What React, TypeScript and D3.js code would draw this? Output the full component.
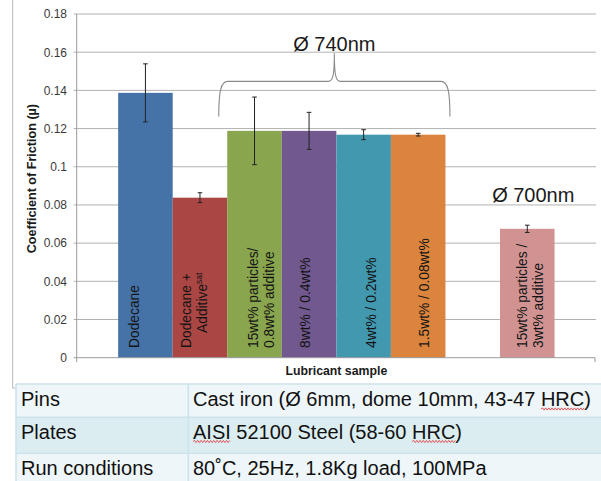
import React, { useLayoutEffect, useRef, useState } from "react";
import * as d3 from "d3";

// ---- data ----
const sampleKeys = ["dodecane", "dodecaneAdd", "p15a08", "p8a04", "p4a02", "p15a008", "gap", "p15a3"];
const frictionValues: (number | null)[] = [0.1387, 0.0838, 0.1188, 0.1188, 0.1168, 0.1168, null, 0.0675];
const frictionErrors: (number | null)[] = [0.0152, 0.0026, 0.0177, 0.0097, 0.0026, 0.0007, null, 0.0019];
const barLabels: string[][] = [
  ["Dodecane"],
  ["Dodecane +", "Additive|sat"],
  ["15wt% particles/", "0.8wt% additive"],
  ["8wt% / 0.4wt%"],
  ["4wt% / 0.2wt%"],
  ["1.5wt% / 0.08wt%"],
  [],
  ["15wt% particles /", "3wt% additive"],
];
const yTicks = [0, 0.02, 0.04, 0.06, 0.08, 0.1, 0.12, 0.14, 0.16, 0.18];
const yTickLabels = ["0", "0.02", "0.04", "0.06", "0.08", "0.1", "0.12", "0.14", "0.16", "0.18"];
const yTitle = "Coefficient of Friction (µ)";
const xTitle = "Lubricant sample";
const groupLabel740 = "Ø 740nm";
const groupLabel700 = "Ø 700nm";
const tableRows: string[][] = [
  ["Pins", "Cast iron (Ø 6mm, dome 10mm, 43-47 HRC)"],
  ["Plates", "AISI 52100 Steel (58-60 HRC)"],
  ["Run conditions", "80˚C, 25Hz, 1.8Kg load, 100MPa"],
];
// words flagged by spell check (row index, substring)
const flagged: [number, string][] = [
  [0, "HRC"],
  [1, "AISI"],
  [1, "HRC"],
];

// ---- styles ----
const barColors = ["#4572A7", "#AA4643", "#89A54E", "#71588F", "#4198AF", "#DB843D", "#93A9CF", "#D19392"];
const labelShift = [-11.5, -6, 6.5, -3.7, 7, 5.5, 0, 2.3];
const FONT = "'Liberation Sans', Arial, sans-serif";

const W = 601;
const H = 481;
const plotLeft = 76.7;
const plotRight = 596;
const plotTop = 14;
const plotBottom = 357.7;

function squiggle(x0: number, x1: number, y: number) {
  const step = 1.6;
  let d = `M${x0},${y}`;
  let up = true;
  for (let x = x0 + step; x <= x1; x += step) {
    d += ` L${x.toFixed(1)},${(y + (up ? -1.1 : 1.1)).toFixed(1)}`;
    up = !up;
  }
  return d;
}

export default function App() {
  const x = d3
    .scaleBand<string>()
    .domain(sampleKeys)
    .range([plotLeft, plotRight])
    .paddingInner(0)
    .paddingOuter(0.76);
  const y = d3.scaleLinear().domain([0, 0.18]).range([plotBottom, plotTop]);
  const bw = x.bandwidth();

  const textRefs = useRef<(SVGTextElement | null)[]>([]);
  const [marks, setMarks] = useState<{ x0: number; x1: number; y: number }[]>([]);

  useLayoutEffect(() => {
    const out: { x0: number; x1: number; y: number }[] = [];
    flagged.forEach(([r, word]) => {
      const el = textRefs.current[r];
      if (!el) return;
      const txt = tableRows[r][1];
      const idx = txt.indexOf(word);
      const bx = el.getBBox();
      const pre = idx > 0 ? el.getSubStringLength(0, idx) : 0;
      const wl = el.getSubStringLength(idx, word.length);
      out.push({ x0: bx.x + pre, x1: bx.x + pre + wl, y: bx.y + bx.height - 1 });
    });
    setMarks(out);
  }, []);

  // table geometry
  const tLeft = 16;
  const tCol = 188.3;
  const rowY = [384, 417.3, 453.3, 492];
  const rowFill = ["#eef6f9", "#dcedf2", "#eef6f9"];
  const rowBase = [406, 438.5, 475];

  // brace path over bars 2..5 (indices 2..5)
  const bL = (x(sampleKeys[2]) as number) - 8.5;
  const bR = (x(sampleKeys[5]) as number) + bw + 4.5;
  const bMid = (bL + bR) / 2;
  const bTop = y(0.1447);
  const bEnd = y(0.1263);
  const bPeak = y(0.1595);
  const brace = `M${bL},${bEnd} C${bL},${bTop + 10} ${bL + 2},${bTop} ${bL + 9},${bTop} L${bMid - 6},${bTop} C${bMid - 2},${bTop} ${bMid},${bTop - 4} ${bMid},${bPeak} C${bMid},${bTop - 4} ${bMid + 2},${bTop} ${bMid + 6},${bTop} L${bR - 9},${bTop} C${bR - 2},${bTop} ${bR},${bTop + 10} ${bR},${bEnd}`;

  return (
    <svg
      width={W}
      height={H}
      style={{ position: "absolute", left: 0, top: 0, background: "#fff" }}
      fontFamily={FONT}
    >
      {/* chart frame edge */}
      <path d={`M12.7,0 L12.7,388 L15.5,388`} stroke="#b8b8b8" fill="none" strokeWidth={1} />

      {/* gridlines */}
      {yTicks.slice(1).map((t) => (
        <line key={t} x1={plotLeft - 3} x2={plotRight} y1={y(t)} y2={y(t)} stroke="#b2b2b2" strokeWidth={1} />
      ))}
      {/* y axis */}
      <line x1={plotLeft} x2={plotLeft} y1={plotTop} y2={plotBottom} stroke="#9a9a9a" />
      <line x1={plotLeft - 3} x2={plotLeft} y1={plotBottom} y2={plotBottom} stroke="#9a9a9a" />
      {yTicks.map((t, i) => (
        <text
          key={t}
          x={67}
          y={y(t)}
          dy="0.36em"
          textAnchor="end"
          fontSize={12}
          fill="#3a3a3a"
        >
          {yTickLabels[i]}
        </text>
      ))}
      <text
        transform={`translate(35.5, ${(y(0.0938) + y(0.0938)) / 2}) rotate(-90)`}
        textAnchor="middle"
        fontSize={12.6}
        fontWeight="bold"
        fill="#1a1a1a"
      >
        {yTitle}
      </text>

      {/* bars */}
      {sampleKeys.map((k, i) => {
        const v = frictionValues[i];
        if (v == null) return null;
        const x0 = x(k) as number;
        return (
          <rect key={k} x={x0} y={y(v)} width={bw} height={y(0) - y(v)} fill={barColors[i]} />
        );
      })}

      {/* error bars */}
      {sampleKeys.map((k, i) => {
        const v = frictionValues[i];
        const e = frictionErrors[i];
        if (v == null || e == null) return null;
        const cx = (x(k) as number) + bw / 2;
        return (
          <g key={k} stroke="#222" strokeWidth={1}>
            <line x1={cx} x2={cx} y1={y(v + e)} y2={y(v - e)} />
            <line x1={cx - 2.3} x2={cx + 2.3} y1={y(v + e)} y2={y(v + e)} />
            <line x1={cx - 2.3} x2={cx + 2.3} y1={y(v - e)} y2={y(v - e)} />
          </g>
        );
      })}

      {/* x axis */}
      <line x1={plotLeft} x2={595} y1={plotBottom} y2={plotBottom} stroke="#9a9a9a" />
      <line x1={plotLeft} x2={plotLeft} y1={plotBottom} y2={plotBottom + 4.5} stroke="#9a9a9a" />
      <line x1={595} x2={595} y1={plotBottom} y2={plotBottom + 4.5} stroke="#9a9a9a" />
      <text
        x={(plotLeft + plotRight) / 2}
        y={375}
        textAnchor="middle"
        fontSize={12.3}
        fontWeight="bold"
        fill="#1a1a1a"
      >
        {xTitle}
      </text>

      {/* bar labels */}
      {sampleKeys.map((k, i) => {
        const lines = barLabels[i];
        if (!lines.length) return null;
        const cx = (x(k) as number) + bw / 2 + labelShift[i];
        const lh = 16;
        return (
          <g key={k}>
            {lines.map((ln, j) => {
              const bx = cx - ((lines.length - 1) / 2) * lh + j * lh + 5;
              const parts = ln.split("|");
              const startY = parts.length > 1 ? 333 : 348;
              return (
                <text
                  key={j}
                  transform={`translate(${bx}, ${startY}) rotate(-90)`}
                  fontSize={13.8}
                  fill="#141414"
                >
                  {parts[0]}
                  {parts.length > 1 ? (
                    <tspan fontSize={8.5} dy={-5}>
                      {parts[1]}
                    </tspan>
                  ) : null}
                </text>
              );
            })}
          </g>
        );
      })}

      {/* brace and group labels */}
      <path d={brace} fill="none" stroke="#8a8a8a" strokeWidth={1.1} />
      <text x={bMid} y={y(0.1605)} textAnchor="middle" fontSize={20} fill="#1a1a1a">
        {groupLabel740}
      </text>
      <text
        x={(x(sampleKeys[7]) as number) + bw / 2 + 6}
        y={y(0.0817)}
        textAnchor="middle"
        fontSize={20}
        fill="#1a1a1a"
      >
        {groupLabel700}
      </text>

      {/* table */}
      {tableRows.map((row, r) => (
        <g key={r}>
          <rect x={tLeft} y={rowY[r]} width={W - tLeft + 10} height={rowY[r + 1] - rowY[r]} fill={rowFill[r]} />
        </g>
      ))}
      {rowY.slice(0, 3).map((yy, i) => (
        <line key={i} x1={tLeft} x2={W + 5} y1={yy} y2={yy} stroke="#cbe3ea" strokeWidth={1.6} />
      ))}
      <line x1={tLeft} x2={tLeft} y1={rowY[0]} y2={H} stroke="#cbe3ea" strokeWidth={1.6} />
      <line x1={tCol} x2={tCol} y1={rowY[0]} y2={H} stroke="#cbe3ea" strokeWidth={1.6} />
      {tableRows.map((row, r) => (
        <g key={"t" + r} fontSize={20} fill="#111">
          <text x={21} y={rowBase[r]}>
            {row[0]}
          </text>
          <text
            x={193}
            y={rowBase[r]}
            ref={(el) => {
              textRefs.current[r] = el;
            }}
          >
            {row[1]}
          </text>
        </g>
      ))}
      {marks.map((m, i) => (
        <path key={i} d={squiggle(m.x0, m.x1, m.y)} fill="none" stroke="#e03030" strokeWidth={0.8} />
      ))}
    </svg>
  );
}
